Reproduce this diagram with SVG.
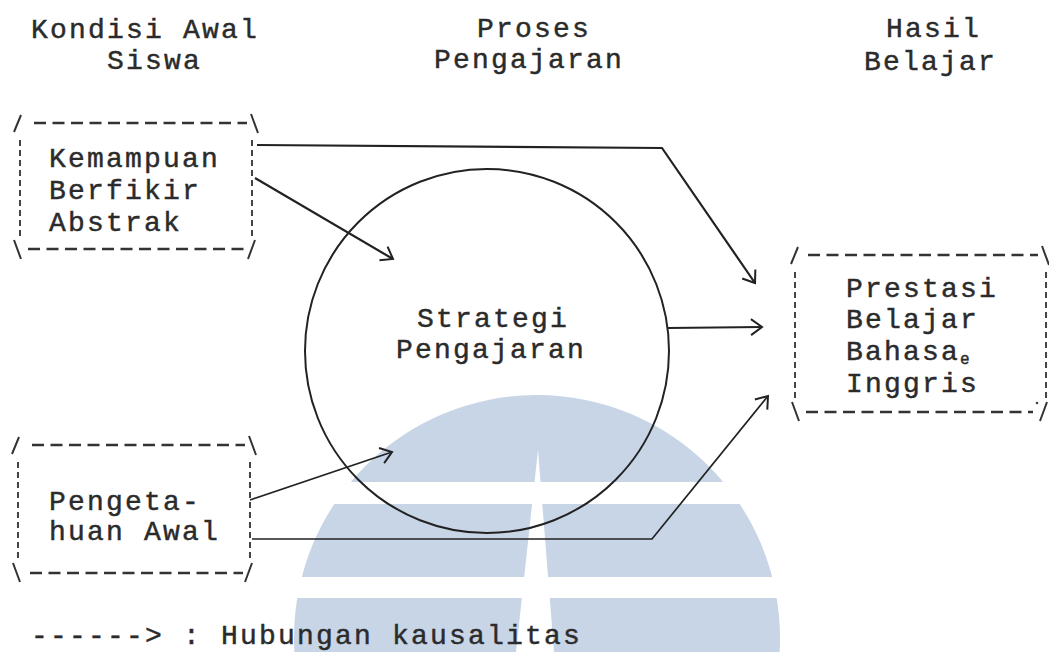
<svg xmlns="http://www.w3.org/2000/svg" width="1049" height="652" viewBox="0 0 1049 652">
<style>
.t{font-family:"Liberation Mono","Courier New",monospace;font-size:28px;letter-spacing:2.2px;fill:#2b2b2b;stroke:#2b2b2b;stroke-width:0.45px}
.dash{stroke:#333;stroke-width:2.6;stroke-dasharray:12 6.5;fill:none}
.vdash{stroke:#444;stroke-width:2;stroke-dasharray:6 4;fill:none}
.corner{stroke:#333;stroke-width:2;fill:none}
.conn{stroke:#222;stroke-width:2.2;fill:none;marker-end:url(#arr)}
.thin{stroke-width:1.7}
.wm{fill:#c7d5e7}
.wb{fill:#ffffff}
</style>
<defs>
<marker id="arr" markerUnits="userSpaceOnUse" markerWidth="20" markerHeight="20" refX="0" refY="0" viewBox="-14 -10 16 20" orient="auto">
<path d="M-11,-8 L0,0 L-11,8" fill="none" stroke="#222" stroke-width="2"/>
</marker>
</defs>
<rect width="1049" height="652" fill="#ffffff"/>
<g id="watermark">
<circle class="wm" cx="537" cy="638" r="243"/>
<rect class="wb" x="270" y="482" width="540" height="22"/>
<rect class="wb" x="270" y="577" width="540" height="21"/>
<polygon class="wb" points="538,450 554,652 516,652"/>
</g>
<g id="titles">
<text class="t" x="31" y="38">Kondisi Awal</text>
<text class="t" x="107" y="69">Siswa</text>
<text class="t" x="477" y="37">Proses</text>
<text class="t" x="434" y="68">Pengajaran</text>
<text class="t" x="886" y="37">Hasil</text>
<text class="t" x="864" y="70">Belajar</text>
</g>
<g id="connectors">
<polyline class="conn" points="257,145 662,148 755,283"/>
<line class="conn" x1="255" y1="178" x2="393" y2="259"/>
<line class="conn" x1="668" y1="328" x2="762" y2="327"/>
<line class="conn thin" x1="250" y1="500" x2="392" y2="452"/>
<polyline class="conn thin" points="252,539 652,539 768,396"/>
</g>
<g id="box-kemampuan">
<path class="dash" d="M34,123 H247 M28,249 H245"/>
<path class="corner" d="M14,132 L21,115 M251,114 L258,133 M14,240 L21,259 M248,259 L255,240"/>
<path class="vdash" d="M20,140 V236 M252,140 V236"/>
<text class="t" x="49" y="167">Kemampuan</text>
<text class="t" x="49" y="199">Berfikir</text>
<text class="t" x="49" y="231">Abstrak</text>
</g>
<g id="box-pengetahuan">
<path class="dash" d="M32,445 H245 M30,573 H243"/>
<path class="corner" d="M12,454 L19,437 M249,436 L256,455 M13,563 L20,582 M245,582 L252,563"/>
<path class="vdash" d="M18,462 V562 M250,462 V562"/>
<text class="t" x="49" y="510">Pengeta-</text>
<text class="t" x="49" y="540">huan Awal</text>
</g>
<g id="node-strategi">
<circle cx="487" cy="351" r="182" fill="none" stroke="#222" stroke-width="2"/>
<text class="t" x="417" y="327">Strategi</text>
<text class="t" x="396" y="358">Pengajaran</text>
</g>
<g id="box-prestasi">
<path class="dash" d="M808,255 H1038 M806,412 H1033"/>
<path class="corner" d="M791,264 L798,247 M1042,246 L1049,265 M792,402 L799,421 M1040,421 L1047,402"/>
<path class="vdash" d="M795,272 V400 M1046,272 V400"/>
<circle cx="1037" cy="403" r="1.3" fill="#444"/>
<text class="t" x="846" y="297">Prestasi</text>
<text class="t" x="846" y="328">Belajar</text>
<text class="t" x="846" y="360">Bahasa<tspan font-size="16px" dy="4">e</tspan></text>
<text class="t" x="846" y="392">Inggris</text>
</g>
<g id="legend">
<text class="t" x="31" y="644">------&gt; : Hubungan kausalitas</text>
</g>
</svg>
